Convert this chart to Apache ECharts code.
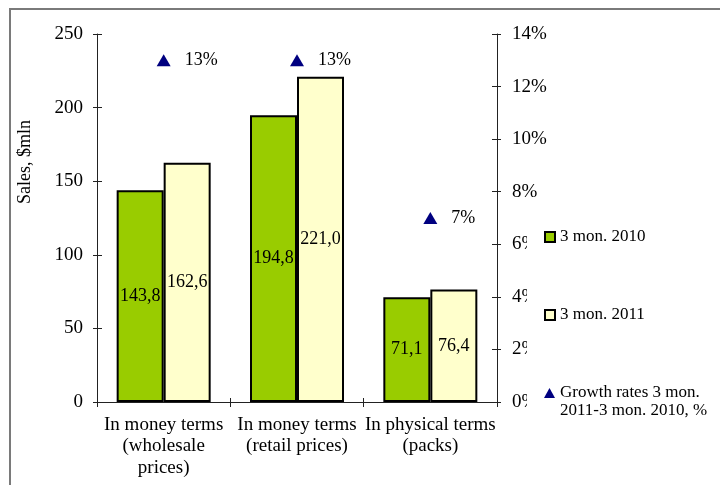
<!DOCTYPE html>
<html>
<head>
<meta charset="utf-8">
<script src="https://cdn.jsdelivr.net/npm/echarts@6/dist/echarts.min.js"></script>
<style>
  html, body { margin: 0; padding: 0; background: #fff; }
  #chart { width: 720px; height: 485px; }
</style>
</head>
<body>
<div id="chart"></div>
<script>
// Sales by measure, first quarter 2010 vs 2011
const categories = [
  'In money terms\n(wholesale\nprices)',
  'In money terms\n(retail prices)',
  'In physical terms\n(packs)'
];
const sales2010 = [143.8, 194.8, 71.1];
const sales2011 = [162.6, 221.0, 76.4];
const growthPct = [13, 13, 7];

const name2010 = '3 mon. 2010';
const name2011 = '3 mon. 2011';
const nameGrowth = 'Growth rates 3 mon. 2011-3 mon. 2010, %';

const FONT = '"Liberation Serif", "Times New Roman", serif';
const FS = 18;        // value labels
const FS_AXIS = 19;   // axis tick labels
const FS_LEGEND = 17; // legend entries
const AXIS_COLOR = '#222';

const comma = v => v.toFixed(1).replace('.', ',');

const chart = echarts.init(document.getElementById('chart'), null, { renderer: 'canvas' });

const leftMin = 0, leftMax = 250, leftStep = 50;
const rightMin = 0, rightMax = 14, rightStep = 2;

const hiddenAxisBits = {
  axisLine: { show: false },
  axisLabel: { show: false },
  splitLine: { show: false }
};

const legendText = { fontFamily: FONT, fontSize: FS_LEGEND, color: '#000', lineHeight: 18 };

chart.setOption({
  animation: false,
  backgroundColor: '#fff',
  textStyle: { fontFamily: FONT, fontSize: FS, color: '#000' },
  grid: { left: 97, right: 223, top: 34, bottom: 83 },
  xAxis: [
    {
      type: 'category',
      data: categories,
      axisLine: { lineStyle: { color: AXIS_COLOR, width: 1 } },
      axisTick: { show: true, length: 5, lineStyle: { color: AXIS_COLOR } },
      axisLabel: {
        interval: 0, margin: 12, color: '#000',
        fontFamily: FONT, fontSize: FS_AXIS, lineHeight: 21.5
      },
      splitLine: { show: false }
    },
    {
      // inner half of the crossing category ticks
      type: 'category',
      data: categories,
      position: 'bottom',
      axisTick: { show: true, inside: true, length: 4, lineStyle: { color: AXIS_COLOR } },
      ...hiddenAxisBits
    }
  ],
  yAxis: [
    {
      type: 'value', min: leftMin, max: leftMax, interval: leftStep,
      position: 'left',
      axisLine: { show: true, lineStyle: { color: AXIS_COLOR } },
      axisTick: { show: true, length: 4, lineStyle: { color: AXIS_COLOR } },
      axisLabel: { margin: 14, color: '#000', fontFamily: FONT, fontSize: FS_AXIS },
      splitLine: { show: false }
    },
    {
      type: 'value', min: rightMin, max: rightMax, interval: rightStep,
      position: 'right',
      axisLine: { show: true, lineStyle: { color: AXIS_COLOR } },
      axisTick: { show: true, length: 4, lineStyle: { color: AXIS_COLOR } },
      axisLabel: {
        margin: 15, color: '#000', fontFamily: FONT, fontSize: FS_AXIS,
        formatter: v => v + '%'
      },
      splitLine: { show: false }
    },
    {
      type: 'value', min: leftMin, max: leftMax, interval: leftStep,
      position: 'left',
      axisTick: { show: true, inside: true, length: 5, lineStyle: { color: AXIS_COLOR } },
      ...hiddenAxisBits
    },
    {
      type: 'value', min: rightMin, max: rightMax, interval: rightStep,
      position: 'right',
      axisTick: { show: true, inside: true, length: 5, lineStyle: { color: AXIS_COLOR } },
      ...hiddenAxisBits
    }
  ],
  legend: [
    {
      data: [{ name: name2010, icon: 'rect' }], left: 544, top: 228, padding: 0,
      orient: 'vertical', itemWidth: 10, itemHeight: 10, itemGap: 0,
      textStyle: legendText, selectedMode: false
    },
    {
      data: [{ name: name2011, icon: 'rect' }], left: 544, top: 306, padding: 0,
      orient: 'vertical', itemWidth: 10, itemHeight: 10, itemGap: 0,
      textStyle: legendText, selectedMode: false
    },
    {
      // leading blank line keeps the marker level with the first text line
      data: [{ name: nameGrowth, icon: 'triangle' }], left: 544, top: 366, padding: 0,
      orient: 'vertical', itemWidth: 11, itemHeight: 10, itemGap: 0,
      formatter: () => '\nGrowth rates 3 mon.\n2011-3 mon. 2010, %',
      textStyle: legendText, selectedMode: false
    }
  ],
  graphic: [
    {
      // outer chart frame
      type: 'rect', silent: true, z: -10,
      shape: { x: 10, y: 9, width: 730, height: 500 },
      style: { fill: 'none', stroke: '#7a7a7a', lineWidth: 2 }
    },
    {
      // legend box sits over the right axis labels
      type: 'rect', silent: true, z: 3,
      shape: { x: 527, y: 226, width: 193, height: 196 },
      style: { fill: '#fff' }
    },
    {
      type: 'text', silent: true,
      x: 25, y: 162, rotation: Math.PI / 2,
      style: {
        text: 'Sales, $mln', fontFamily: FONT, fontSize: FS, fill: '#000',
        align: 'center', verticalAlign: 'middle'
      }
    }
  ],
  series: [
    {
      name: name2010, type: 'bar', xAxisIndex: 0, yAxisIndex: 0,
      data: sales2010,
      barWidth: 47, barGap: '0%',
      itemStyle: { color: '#99cc00', borderColor: '#000', borderWidth: 2 },
      label: {
        show: true, position: 'inside', color: '#000',
        fontFamily: FONT, fontSize: FS,
        formatter: p => comma(p.value)
      }
    },
    {
      name: name2011, type: 'bar', xAxisIndex: 0, yAxisIndex: 0,
      data: sales2011,
      barWidth: 47, barGap: '0%',
      itemStyle: { color: '#ffffcc', borderColor: '#000', borderWidth: 2 },
      label: {
        show: true, position: 'inside', color: '#000',
        fontFamily: FONT, fontSize: FS,
        formatter: p => comma(p.value)
      }
    },
    {
      name: nameGrowth, type: 'scatter', xAxisIndex: 0, yAxisIndex: 1,
      data: growthPct,
      symbol: 'triangle', symbolSize: [14, 12],
      itemStyle: { color: '#000080', opacity: 1 },
      label: {
        show: true, position: 'right', distance: 14, color: '#000',
        fontFamily: FONT, fontSize: FS,
        formatter: p => p.value + '%'
      },
      z: 5
    }
  ]
});
</script>
</body>
</html>
